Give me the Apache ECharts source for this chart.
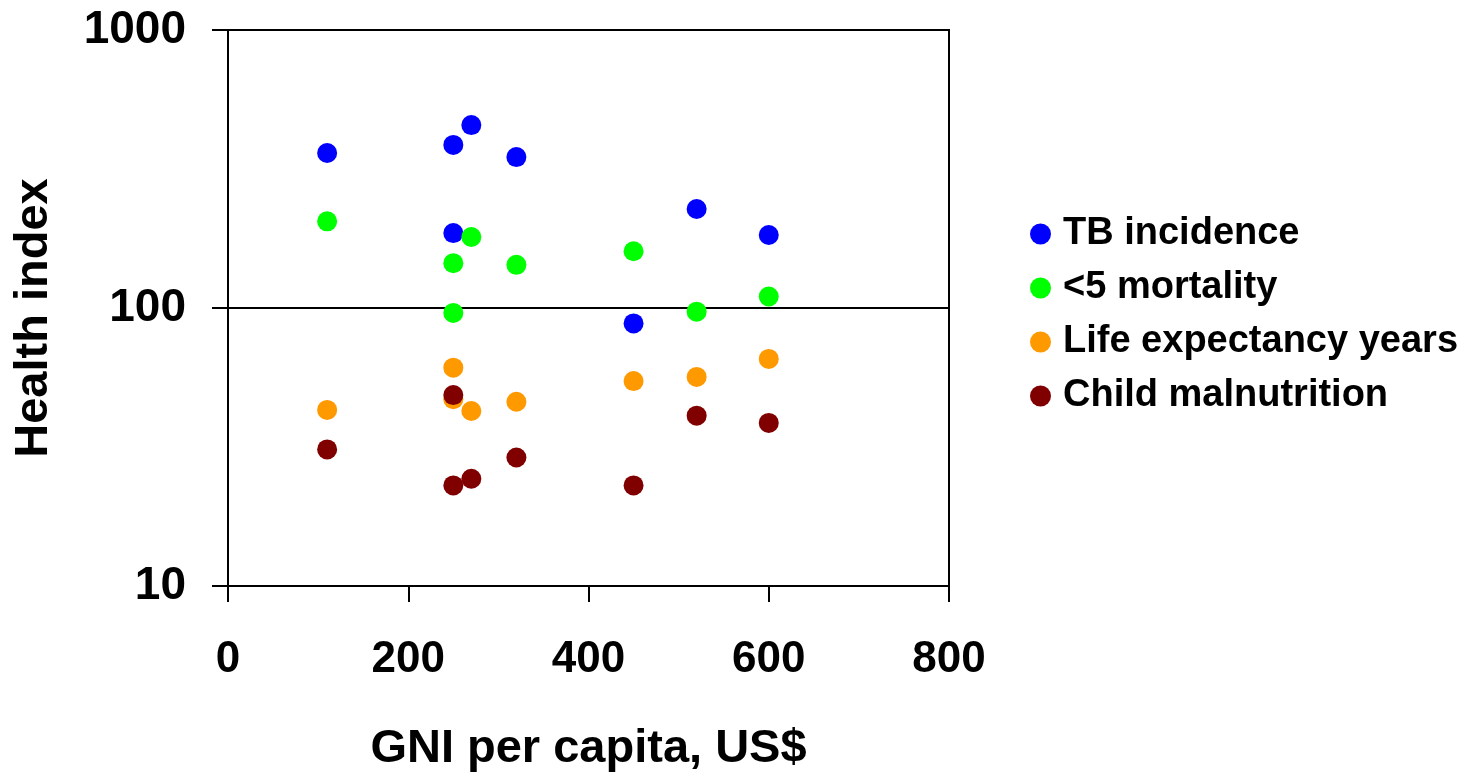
<!DOCTYPE html>
<html>
<head>
<meta charset="utf-8">
<script src="https://cdn.jsdelivr.net/npm/echarts@6/dist/echarts.min.js"></script>
<style>
html,body{margin:0;padding:0;background:#fff;}
#chart{width:1481px;height:773px;}
</style>
</head>
<body>
<div id="chart"></div>
<script>
// Data
const seriesNames = ["TB incidence", "<5 mortality", "Life expectancy years", "Child malnutrition"];
const seriesColors = ["#0000FF", "#00FF00", "#FF9900", "#800000"];
const xTicks = [0, 200, 400, 600, 800];
const yTicks = [10, 100, 1000];

const gniTB = [110, 250, 270, 320, 250, 520, 600, 450];
const tbIncidence = [361, 386, 455, 349, 186, 227, 183, 88];

const gniMortality = [110, 250, 270, 320, 250, 450, 520, 600];
const under5Mortality = [205, 145, 180, 143, 96, 160, 97, 110];

const gniLife = [110, 250, 250, 270, 320, 450, 520, 600];
const lifeExpectancy = [43, 61, 47, 42.6, 46, 54.6, 56.5, 65.6];

const gniChild = [110, 250, 250, 270, 320, 450, 520, 600];
const childMalnutrition = [31, 48.6, 23, 24.3, 29, 23, 41, 38.6];

const xs = [gniTB, gniMortality, gniLife, gniChild];
const ys = [tbIncidence, under5Mortality, lifeExpectancy, childMalnutrition];

const font = "'Liberation Sans', Arial, sans-serif";

const chart = echarts.init(document.getElementById('chart'), null, {renderer: 'canvas'});
chart.setOption({
  animation: false,
  backgroundColor: '#ffffff',
  grid: {
    left: 228, right: 532, top: 30, bottom: 187,
    containLabel: false,
    outerBoundsMode: 'none',
    show: true, borderColor: '#000', borderWidth: 2, backgroundColor: 'transparent'
  },
  legend: {
    orient: 'vertical',
    left: 1025,
    top: 210,
    itemGap: 16,
    itemWidth: 21,
    itemHeight: 21,
    icon: 'circle',
    data: seriesNames,
    textStyle: {fontFamily: font, fontWeight: 'bold', fontSize: 38, color: '#000', padding: [0, 0, 0, 7]}
  },
  xAxis: {
    type: 'value',
    min: xTicks[0], max: xTicks[xTicks.length - 1], interval: 200,
    name: 'GNI per capita, US$',
    nameLocation: 'middle',
    nameGap: 140,
    nameTextStyle: {fontFamily: font, fontWeight: 'bold', fontSize: 47, color: '#000'},
    axisLine: {show: true, onZero: false, lineStyle: {color: '#000', width: 2}},
    axisTick: {show: true, inside: false, length: 16, lineStyle: {color: '#000', width: 2}},
    axisLabel: {margin: 52, fontFamily: font, fontWeight: 'bold', fontSize: 44, color: '#000'},
    splitLine: {show: false}
  },
  yAxis: {
    type: 'log',
    logBase: 10,
    min: yTicks[0], max: yTicks[yTicks.length - 1],
    name: 'Health index',
    nameLocation: 'middle',
    nameGap: 170,
    nameRotate: 90,
    nameTextStyle: {fontFamily: font, fontWeight: 'bold', fontSize: 47, color: '#000', padding: [0, 20, 0, 0]},
    axisLine: {show: true, lineStyle: {color: '#000', width: 2}},
    axisTick: {show: true, inside: false, length: 16, lineStyle: {color: '#000', width: 2}},
    axisLabel: {margin: 42, fontFamily: font, fontWeight: 'bold', fontSize: 46, color: '#000',
      formatter: v => String(Math.round(v))},
    splitLine: {show: true, lineStyle: {color: '#000', width: 2}},
    minorTick: {show: false}
  },
  series: seriesNames.map((name, i) => ({
    name: name,
    type: 'scatter',
    symbol: 'circle',
    symbolSize: 20,
    itemStyle: {color: seriesColors[i], opacity: 1},
    data: xs[i].map((x, j) => [x, ys[i][j]])
  }))
});
</script>
</body>
</html>
